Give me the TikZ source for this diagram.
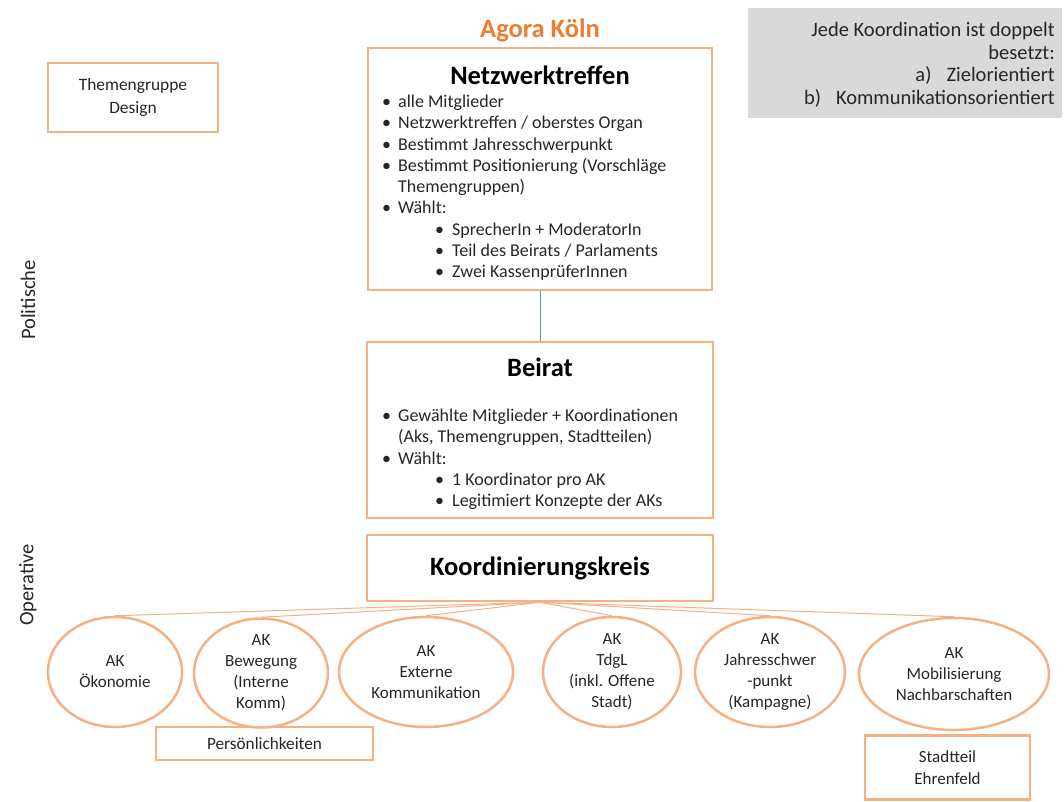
\documentclass[tikz,border=0pt]{standalone}
\usepackage{fontspec}
\setmainfont{Carlito}
\usetikzlibrary{shapes}
\definecolor{agorarand}{HTML}{F4B183}
\definecolor{agoratitel}{HTML}{ED7D31}
\definecolor{agoragrau}{HTML}{D9D9D9}
\definecolor{agorablau}{HTML}{5B9BD5}
\definecolor{agoratext}{HTML}{262626}
\newcommand{\pkt}{\makebox[16pt][l]{\textbullet}}
\newcommand{\upkt}{\hspace*{53pt}\makebox[17pt][l]{\textbullet}}
\newcommand{\weiter}{\hspace*{16pt}}

\begin{document}
\begin{tikzpicture}[x = 1pt, y = -1pt]
\tikzstyle{KastenStyle}=[shape = rectangle,
                         draw = agorarand,
                         line width = 2.5pt,
                         inner sep = 0pt,
                         text = agoratext]
\tikzstyle{AKStyle}=[shape = ellipse,
                     draw = agorarand,
                     line width = 2.5pt,
                     inner sep = 0pt,
                     align = center,
                     text = agoratext,
                     font = \fontsize{17}{21}\selectfont]
\tikzstyle{TitelStyle}=[inner sep = 0pt,
                        font = \fontsize{26.5}{30}\selectfont\bfseries]
\tikzstyle{ListeStyle}=[inner sep = 0pt,
                        anchor = north west,
                        align = left,
                        text = agoratext,
                        font = \fontsize{18}{21.25}\selectfont]
\tikzstyle{VerbinderStyle}=[draw = agorarand, line width = 1pt]
\useasboundingbox (0,0) rectangle (1064,802);
\node[TitelStyle, text = agoratitel] (agora) at (540, 30) {Agora Köln};
\node[KastenStyle, minimum width = 344pt, minimum height = 242pt] (netz) at (540, 169) {};
\node[TitelStyle] (netztitel) at (540, 75) {Netzwerktreffen};
\node[ListeStyle] (netzliste) at (382, 95) {\pkt alle Mitglieder\\
\pkt Netzwerktreffen / oberstes Organ\\
\pkt Bestimmt Jahresschwerpunkt\\
\pkt Bestimmt Positionierung (Vorschläge\\
\weiter Themengruppen)\\
\pkt Wählt:\\
\upkt SprecherIn + ModeratorIn\\
\upkt Teil des Beirats / Parlaments\\
\upkt Zwei KassenprüferInnen};
\node[KastenStyle, minimum width = 346pt, minimum height = 176pt] (beirat) at (540, 430) {};
\node[TitelStyle] (beirattitel) at (540, 367) {Beirat};
\node[ListeStyle] (beiratliste) at (382, 409) {\pkt Gewählte Mitglieder + Koordinationen\\
\weiter (Aks, Themengruppen, Stadtteilen)\\
\pkt Wählt:\\
\upkt 1 Koordinator pro AK\\
\upkt Legitimiert Konzepte der AKs};
\node[KastenStyle, minimum width = 346pt, minimum height = 66pt, font = \fontsize{26.5}{30}\selectfont\bfseries, text = black] (kk) at (540, 568) {Koordinierungskreis};
\node[KastenStyle, minimum width = 170pt, minimum height = 69pt, align = center, font = \fontsize{17.4}{23}\selectfont] (design) at (133, 97.5) {Themengruppe\\Design};
\node[fill = agoragrau, minimum width = 314pt, minimum height = 110pt, inner sep = 0pt] (hinweis) at (905, 63) {};
\node[inner sep = 0pt, anchor = north east, align = right, text = agoratext, font = \fontsize{20.5}{22.7}\selectfont] (hinweistext) at (1055, 22) {Jede Koordination ist doppelt\\
besetzt:\\
a)\hspace{15pt}Zielorientiert\\
b)\hspace{15pt}Kommunikationsorientiert};
\node[rotate = 90, inner sep = 0pt, text = agoratext, font = \fontsize{20.5}{24}\selectfont] (politisch) at (28, 300) {Politische};
\node[rotate = 90, inner sep = 0pt, text = agoratext, font = \fontsize{20.5}{24}\selectfont] (operativ) at (28, 585) {Operative};
\node[AKStyle, minimum width = 134pt, minimum height = 110pt] (ak1) at (115, 672) {AK\\Ökonomie};
\node[AKStyle, minimum width = 134pt, minimum height = 109pt] (ak2) at (261, 673) {AK\\Bewegung\\(Interne\\Komm)};
\node[AKStyle, minimum width = 174pt, minimum height = 110pt] (ak3) at (426, 672) {AK\\Externe\\Kommunikation};
\node[AKStyle, minimum width = 138pt, minimum height = 110pt] (ak4) at (612, 672) {AK\\TdgL\\(inkl. Offene\\Stadt)};
\node[AKStyle, minimum width = 150pt, minimum height = 110pt] (ak5) at (770, 672) {AK\\Jahresschwer\\-punkt\\(Kampagne)};
\node[AKStyle, minimum width = 190pt, minimum height = 112pt] (ak6) at (954, 674) {AK\\Mobilisierung\\Nachbarschaften};
\node[KastenStyle, minimum width = 217pt, minimum height = 33pt, font = \fontsize{17.2}{21}\selectfont] (persoen) at (264.5, 743.5) {Persönlichkeiten};
\node[KastenStyle, minimum width = 165pt, minimum height = 64pt, align = center, font = \fontsize{17}{22}\selectfont] (ehrenfeld) at (947.5, 767.5) {Stadtteil\\Ehrenfeld};
\draw[agorablau, line width = 1pt] (netz) -- (beirat);
\draw[VerbinderStyle] (kk.south) -- (ak1.north);
\draw[VerbinderStyle] (kk.south) -- (ak2.north);
\draw[VerbinderStyle] (kk.south) -- (ak3.north);
\draw[VerbinderStyle] (kk.south) -- (ak4.north);
\draw[VerbinderStyle] (kk.south) -- (ak5.north);
\draw[VerbinderStyle] (kk.south) -- (ak6.north);
\end{tikzpicture}
\end{document}
